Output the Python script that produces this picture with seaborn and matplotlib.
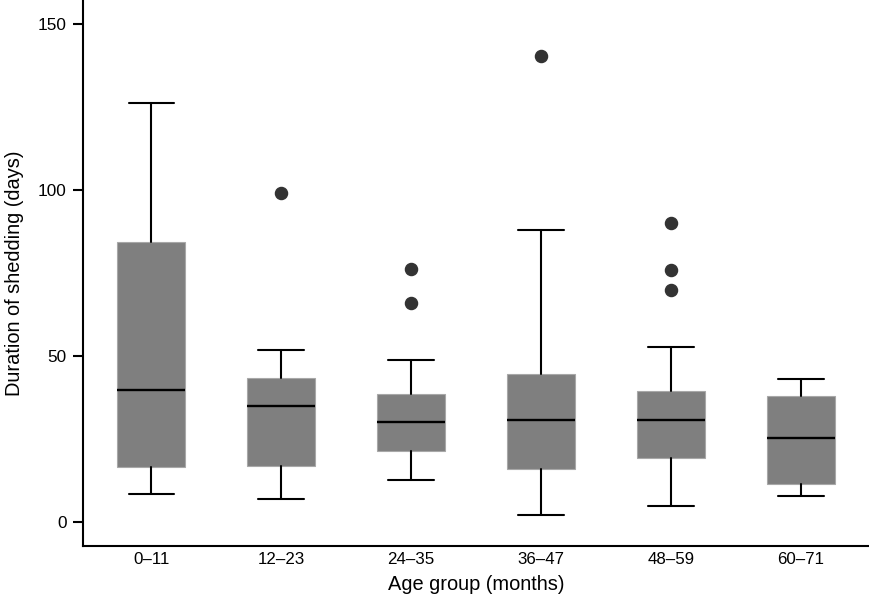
"""Duracion de excrecion por grupo de edad - boxplots a partir de estadisticos resumidos."""

import matplotlib

matplotlib.use("Agg")
import matplotlib.pyplot as plt
import seaborn as sns

GROUPS = ["0–11", "12–23", "24–35", "36–47", "48–59", "60–71"]
WHISKER_LOW = [8.4, 6.8, 12.5, 2.0, 4.8, 7.8]
Q1 = [16.6, 16.9, 21.3, 15.9, 19.1, 11.3]
MEDIAN = [39.8, 34.8, 30.0, 30.7, 30.7, 25.3]
Q3 = [84.3, 43.2, 38.4, 44.6, 39.4, 38.0]
WHISKER_HIGH = [126.2, 51.9, 48.8, 87.9, 52.8, 43.0]
OUTLIERS = [[], [99.1], [66.0, 76.1], [140.4], [70.0, 76.0, 90.1], []]
Y_TICKS = [0, 50, 100, 150]

sns.set_theme(style="ticks")
plt.rcParams["font.family"] = ["Liberation Sans", "DejaVu Sans"]

stats = [
    dict(label=g, whislo=lo, q1=a, med=m, q3=b, whishi=hi, fliers=f)
    for g, lo, a, m, b, hi, f in zip(GROUPS, WHISKER_LOW, Q1, MEDIAN, Q3,
                                     WHISKER_HIGH, OUTLIERS)
]

fig = plt.figure(figsize=(8.69, 6.07), dpi=100)
ax = fig.add_axes([83.3 / 869, 61 / 607, 1 - 83.3 / 869, 546 / 607])

ax.bxp(stats, positions=range(len(GROUPS)), widths=0.523, capwidths=0.35,
       patch_artist=True,
       boxprops=dict(facecolor="#7f7f7f", edgecolor="#a8a8a8", linewidth=0.8),
       medianprops=dict(color="black", linewidth=1.7),
       whiskerprops=dict(color="black", linewidth=1.5),
       capprops=dict(color="black", linewidth=1.5),
       flierprops=dict(marker="o", markerfacecolor="#333333",
                       markeredgecolor="#333333", markersize=8.7))

ax.set_xlim(-0.523, len(GROUPS) - 1 + 0.523)
ax.set_ylim(-7.33, 157.3)
ax.set_yticks(Y_TICKS)
ax.set_xticks(range(len(GROUPS)))
ax.set_xticklabels(GROUPS)

sns.despine(ax=ax)
for side in ["left", "bottom"]:
    ax.spines[side].set_linewidth(1.5)
    ax.spines[side].set_color("black")
ax.tick_params(axis="y", length=7, width=1.5, pad=5, labelsize=12.4, colors="black")
ax.tick_params(axis="x", length=0, pad=4, labelsize=12.2, colors="black")

ax.set_xlabel("Age group (months)", fontsize=14.4, labelpad=6, color="black")
ax.set_ylabel("Duration of shedding (days)", fontsize=14.4, labelpad=10, color="black")

fig.savefig("out.png", dpi=100)
